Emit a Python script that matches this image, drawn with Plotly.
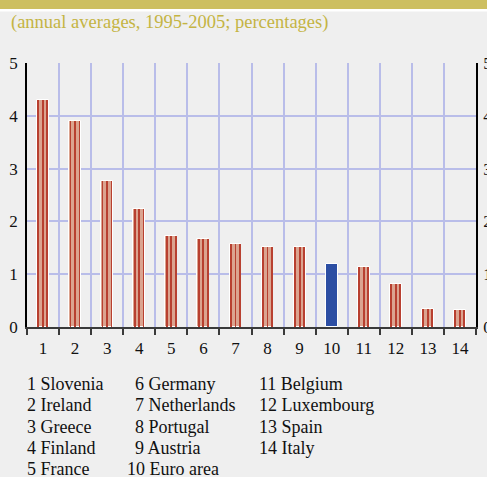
import plotly.graph_objects as go

# ---- data ----
positions = list(range(1, 15))
countries = ["Slovenia", "Ireland", "Greece", "Finland", "France", "Germany", "Netherlands",
             "Portugal", "Austria", "Euro area", "Belgium", "Luxembourg", "Spain", "Italy"]
values = [4.3, 3.9, 2.77, 2.24, 1.73, 1.67, 1.57, 1.52, 1.51, 1.2, 1.14, 0.81, 0.34, 0.33]
y_ticks = [0, 1, 2, 3, 4, 5]
title_text = "(annual averages, 1995-2005; percentages)"
highlight = "Euro area"

# ---- styling ----
BG = "#efefef"
SALMON = "#dba490"
STRIPE = "#b84030"
BLUE = "#2c4ea3"
GRID = "#b9bde9"
FONT = "Liberation Serif"

W, H = 487, 477
L, R, T, B = 27, 11, 63, 150
plot_h = H - T - B
plot_w = W - L - R

colors = [BLUE if c == highlight else SALMON for c in countries]
stripe_vals = [None if c == highlight else v for c, v in zip(countries, values)]

fig = go.Figure()
fig.add_trace(go.Bar(x=positions, y=values, width=0.37,
                     marker=dict(color=colors, line=dict(color="white", width=1)),
                     showlegend=False, hoverinfo="skip"))
for off in (-0.145, 0.0, 0.135):
    fig.add_trace(go.Bar(x=positions, y=stripe_vals, width=0.026, offset=off - 0.013,
                         marker=dict(color=STRIPE, line=dict(width=0)),
                         showlegend=False, hoverinfo="skip"))
# invisible trace for right axis
fig.add_trace(go.Scatter(x=[positions[0]], y=[0], yaxis="y2", mode="markers",
                         marker=dict(opacity=0), showlegend=False, hoverinfo="skip"))

fig.update_layout(
    width=W, height=H,
    margin=dict(l=L, r=R, t=T, b=B, autoexpand=False),
    paper_bgcolor=BG, plot_bgcolor=BG,
    barmode="overlay", bargap=0,
    font=dict(family=FONT, size=17, color="#111"),
    xaxis=dict(range=[0.5, 14.5], tickmode="array", tickvals=positions,
               ticktext=[str(p) for p in positions],
               ticks="outside", ticklen=5, tickcolor="rgba(0,0,0,0)",
               showgrid=False, zeroline=False,
               showline=True, linecolor="#3a3a3a", linewidth=2,
               minor=dict(tickmode="linear", tick0=0.5, dtick=1, ticks="outside",
                          ticklen=6, tickcolor="#3a3a3a", tickwidth=1.5,
                          showgrid=True, gridcolor=GRID, gridwidth=1.5),
               tickfont=dict(family=FONT, size=17, color="#111")),
    yaxis=dict(range=[0, 5], tickmode="array", tickvals=y_ticks,
               ticks="outside", ticklen=4, tickcolor="rgba(0,0,0,0)",
               showgrid=True, gridcolor=GRID, gridwidth=1.5, zeroline=False,
               showline=True, linecolor="black", linewidth=1.5,
               tickfont=dict(family=FONT, size=17, color="#111")),
    yaxis2=dict(range=[0, 5], tickmode="array", tickvals=y_ticks, overlaying="y",
                side="right", ticks="outside", ticklen=2, tickcolor="rgba(0,0,0,0)",
                showgrid=False, zeroline=False, showline=True, linecolor="black",
                linewidth=1.5, tickfont=dict(family=FONT, size=17, color="#111")),
)

def py(pix):
    return (H - B - pix) / plot_h

def px(pix):
    return (pix - L) / plot_w

shapes = [
    dict(type="rect", xref="paper", yref="paper", x0=px(0), x1=px(W), y0=py(9), y1=py(-2),
         fillcolor="#cdbf60", line=dict(width=0), layer="above"),
    dict(type="rect", xref="paper", yref="paper", x0=px(0), x1=px(W), y0=py(11.5), y1=py(9),
         fillcolor="white", line=dict(width=0), layer="above"),
]
fig.update_layout(shapes=shapes)

annotations = [dict(text=title_text, xref="paper", yref="paper", x=px(9), y=py(23),
                    xanchor="left", yanchor="middle", showarrow=False,
                    font=dict(family=FONT, size=18.5, color="#c4b443"))]

col_x = [26, 134, 258]
row_y = [384, 405.3, 426.6, 448, 469]
for i, (p, c) in enumerate(zip(positions, countries)):
    col = i // 5
    row = i % 5
    x0 = col_x[col] - (8 if p >= 10 and col == 1 else 0)
    annotations.append(dict(text=f"{p} {c}", xref="paper", yref="paper",
                            x=px(x0 - 1), y=py(row_y[row]), xanchor="left", yanchor="middle",
                            showarrow=False, font=dict(family=FONT, size=18, color="#111")))
fig.update_layout(annotations=annotations)

fig.write_html("out.html", config={"displayModeBar": False},
               post_script="document.body.style.margin='0';document.body.style.overflow='hidden';document.body.style.background='#efefef';")
